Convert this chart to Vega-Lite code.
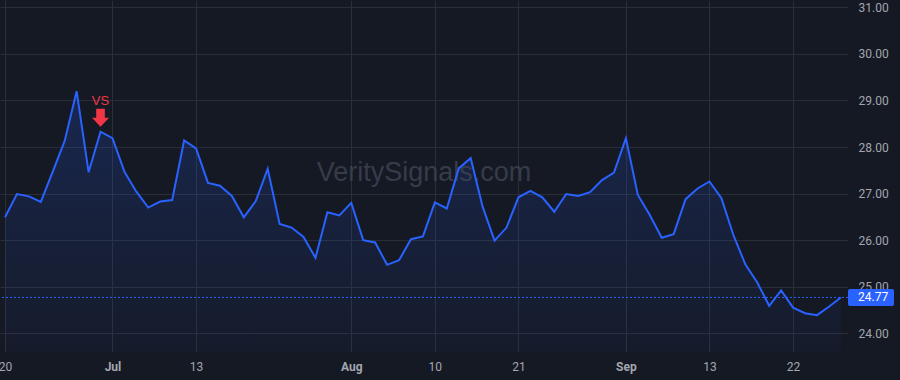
{
  "$schema": "https://vega.github.io/schema/vega-lite/v6.json",
  "width": 848,
  "height": 352,
  "autosize": {"type": "none"},
  "padding": {"left": 0, "top": 0, "right": 52, "bottom": 28},
  "background": "#151924",
  "config": {"view": {"stroke": null}, "font": "Roboto"},
  "datasets": {
    "series": [
      {"date": "2023-06-20", "i": 0, "v": 26.49},
      {"date": "2023-06-21", "i": 1, "v": 26.99},
      {"date": "2023-06-22", "i": 2, "v": 26.94},
      {"date": "2023-06-23", "i": 3, "v": 26.82},
      {"date": "2023-06-26", "i": 4, "v": 27.47},
      {"date": "2023-06-27", "i": 5, "v": 28.13},
      {"date": "2023-06-28", "i": 6, "v": 29.2},
      {"date": "2023-06-29", "i": 7, "v": 27.46},
      {"date": "2023-06-30", "i": 8, "v": 28.33},
      {"date": "2023-07-03", "i": 9, "v": 28.19},
      {"date": "2023-07-05", "i": 10, "v": 27.47},
      {"date": "2023-07-06", "i": 11, "v": 27.04},
      {"date": "2023-07-07", "i": 12, "v": 26.7},
      {"date": "2023-07-10", "i": 13, "v": 26.83},
      {"date": "2023-07-11", "i": 14, "v": 26.86},
      {"date": "2023-07-12", "i": 15, "v": 28.14},
      {"date": "2023-07-13", "i": 16, "v": 27.97},
      {"date": "2023-07-14", "i": 17, "v": 27.23},
      {"date": "2023-07-17", "i": 18, "v": 27.17},
      {"date": "2023-07-18", "i": 19, "v": 26.95},
      {"date": "2023-07-19", "i": 20, "v": 26.49},
      {"date": "2023-07-20", "i": 21, "v": 26.84},
      {"date": "2023-07-21", "i": 22, "v": 27.53},
      {"date": "2023-07-24", "i": 23, "v": 26.35},
      {"date": "2023-07-25", "i": 24, "v": 26.27},
      {"date": "2023-07-26", "i": 25, "v": 26.07},
      {"date": "2023-07-27", "i": 26, "v": 25.62},
      {"date": "2023-07-28", "i": 27, "v": 26.6},
      {"date": "2023-07-31", "i": 28, "v": 26.53},
      {"date": "2023-08-01", "i": 29, "v": 26.8},
      {"date": "2023-08-02", "i": 30, "v": 26.0},
      {"date": "2023-08-03", "i": 31, "v": 25.95},
      {"date": "2023-08-04", "i": 32, "v": 25.47},
      {"date": "2023-08-07", "i": 33, "v": 25.57},
      {"date": "2023-08-08", "i": 34, "v": 26.02},
      {"date": "2023-08-09", "i": 35, "v": 26.08},
      {"date": "2023-08-10", "i": 36, "v": 26.81},
      {"date": "2023-08-11", "i": 37, "v": 26.68},
      {"date": "2023-08-14", "i": 38, "v": 27.54},
      {"date": "2023-08-15", "i": 39, "v": 27.76},
      {"date": "2023-08-16", "i": 40, "v": 26.72},
      {"date": "2023-08-17", "i": 41, "v": 25.99},
      {"date": "2023-08-18", "i": 42, "v": 26.27},
      {"date": "2023-08-21", "i": 43, "v": 26.92},
      {"date": "2023-08-22", "i": 44, "v": 27.06},
      {"date": "2023-08-23", "i": 45, "v": 26.92},
      {"date": "2023-08-24", "i": 46, "v": 26.61},
      {"date": "2023-08-25", "i": 47, "v": 26.99},
      {"date": "2023-08-28", "i": 48, "v": 26.95},
      {"date": "2023-08-29", "i": 49, "v": 27.03},
      {"date": "2023-08-30", "i": 50, "v": 27.29},
      {"date": "2023-08-31", "i": 51, "v": 27.45},
      {"date": "2023-09-01", "i": 52, "v": 28.19},
      {"date": "2023-09-05", "i": 53, "v": 26.97},
      {"date": "2023-09-06", "i": 54, "v": 26.54},
      {"date": "2023-09-07", "i": 55, "v": 26.05},
      {"date": "2023-09-08", "i": 56, "v": 26.13},
      {"date": "2023-09-11", "i": 57, "v": 26.88},
      {"date": "2023-09-12", "i": 58, "v": 27.11},
      {"date": "2023-09-13", "i": 59, "v": 27.26},
      {"date": "2023-09-14", "i": 60, "v": 26.9},
      {"date": "2023-09-15", "i": 61, "v": 26.11},
      {"date": "2023-09-18", "i": 62, "v": 25.48},
      {"date": "2023-09-19", "i": 63, "v": 25.09},
      {"date": "2023-09-20", "i": 64, "v": 24.59},
      {"date": "2023-09-21", "i": 65, "v": 24.92},
      {"date": "2023-09-22", "i": 66, "v": 24.55},
      {"date": "2023-09-25", "i": 67, "v": 24.43},
      {"date": "2023-09-26", "i": 68, "v": 24.39},
      {"date": "2023-09-27", "i": 69, "v": 24.57},
      {"date": "2023-09-28", "i": 70, "v": 24.77}
    ],
    "signals": [{"i": 8, "v": 28.33, "label": "VS"}]
  },
  "data": {"name": "series"},
  "layer": [
    {
      "mark": {
        "type": "area",
        "opacity": 1,
        "clip": true,
        "color": {
          "gradient": "linear", "x1": 0, "y1": 0, "x2": 0, "y2": 1,
          "stops": [
            {"offset": 0, "color": "rgba(41,98,255,0.2)"},
            {"offset": 0.5, "color": "rgba(41,98,255,0.11)"},
            {"offset": 1, "color": "rgba(41,98,255,0.03)"}
          ]
        }
      },
      "encoding": {
        "x": {
          "field": "i", "type": "quantitative",
          "scale": {"domain": [-0.419, 70.6], "nice": false, "zero": false},
          "axis": {
            "title": null,
            "values": [0, 9, 16, 29, 36, 43, 52, 59, 66],
            "labelExpr": "['20','Jul','13','Aug','10','21','Sep','13','22'][indexof([0,9,16,29,36,43,52,59,66], datum.value)]",
            "grid": true, "gridColor": "#2a2e39", "gridWidth": 1,
            "ticks": false, "domain": false,
            "labelFlush": false, "labelOverlap": false,
            "labelPadding": 9, "labelColor": "#a3a6af", "labelFontSize": 12,
            "labelFontWeight": {"condition": {"test": "indexof([9,29,52], datum.value) >= 0", "value": "bold"}, "value": "normal"}
          }
        },
        "y": {
          "field": "v", "type": "quantitative",
          "scale": {"domain": [23.598, 31.157], "nice": false, "zero": false},
          "axis": {
            "title": null, "orient": "right",
            "values": [24, 25, 26, 27, 28, 29, 30, 31],
            "format": ".2f",
            "grid": true, "gridColor": "#2a2e39", "gridWidth": 1,
            "ticks": false, "domain": false,
            "labelAlign": "left", "labelBaseline": "middle", "labelPadding": 10,
            "labelFlush": false, "labelColor": "#a3a6af", "labelFontSize": 12
          }
        },
        "y2": {"datum": 23.598}
      }
    },
    {
      "data": {"values": [{"text": "VeritySignals.com"}]},
      "mark": {"type": "text", "align": "center", "baseline": "alphabetic", "font": "Liberation Sans", "fontSize": 27, "color": "#3e4250", "opacity": 0.85},
      "encoding": {
        "x": {"datum": 35.09, "type": "quantitative"},
        "y": {"datum": 27.27, "type": "quantitative"},
        "text": {"field": "text"}
      }
    },
    {
      "transform": [{"filter": "datum.i == 70"}],
      "mark": {"type": "rule", "color": "#2962ff", "strokeWidth": 1, "strokeDash": [2, 2]},
      "encoding": {
        "y": {"field": "v", "type": "quantitative"}
      }
    },
    {
      "mark": {"type": "line", "color": "#2962ff", "strokeWidth": 2},
      "encoding": {
        "x": {"field": "i", "type": "quantitative"},
        "y": {"field": "v", "type": "quantitative"}
      }
    },
    {
      "data": {"name": "signals"},
      "mark": {
        "type": "point", "filled": true, "opacity": 1, "color": "#f23645", "size": 324, "yOffset": -14,
        "shape": "M -0.48 -1 L 0.48 -1 L 0.48 0 L 0.95 0 L 0 1 L -0.95 0 L -0.48 0 Z"
      },
      "encoding": {
        "x": {"field": "i", "type": "quantitative"},
        "y": {"field": "v", "type": "quantitative"}
      }
    },
    {
      "data": {"name": "signals"},
      "mark": {"type": "text", "color": "#f23645", "font": "Liberation Sans", "fontSize": 13, "baseline": "middle", "align": "center", "yOffset": -31},
      "encoding": {
        "x": {"field": "i", "type": "quantitative"},
        "y": {"field": "v", "type": "quantitative"},
        "text": {"field": "label"}
      }
    },
    {
      "transform": [{"filter": "datum.i == 70"}],
      "mark": {"type": "rect", "color": "#2962ff", "x2Offset": 46, "yOffset": -8.5, "y2Offset": 8.5, "cornerRadius": 2},
      "encoding": {
        "x": {"value": "width"},
        "x2": {"value": "width"},
        "y": {"field": "v", "type": "quantitative"},
        "y2": {"field": "v"}
      }
    },
    {
      "transform": [{"filter": "datum.i == 70"}],
      "mark": {"type": "text", "color": "#ffffff", "fontSize": 12, "align": "left", "baseline": "middle", "dx": 10},
      "encoding": {
        "x": {"value": "width"},
        "y": {"field": "v", "type": "quantitative"},
        "text": {"field": "v", "type": "quantitative", "format": ".2f"}
      }
    }
  ]
}
